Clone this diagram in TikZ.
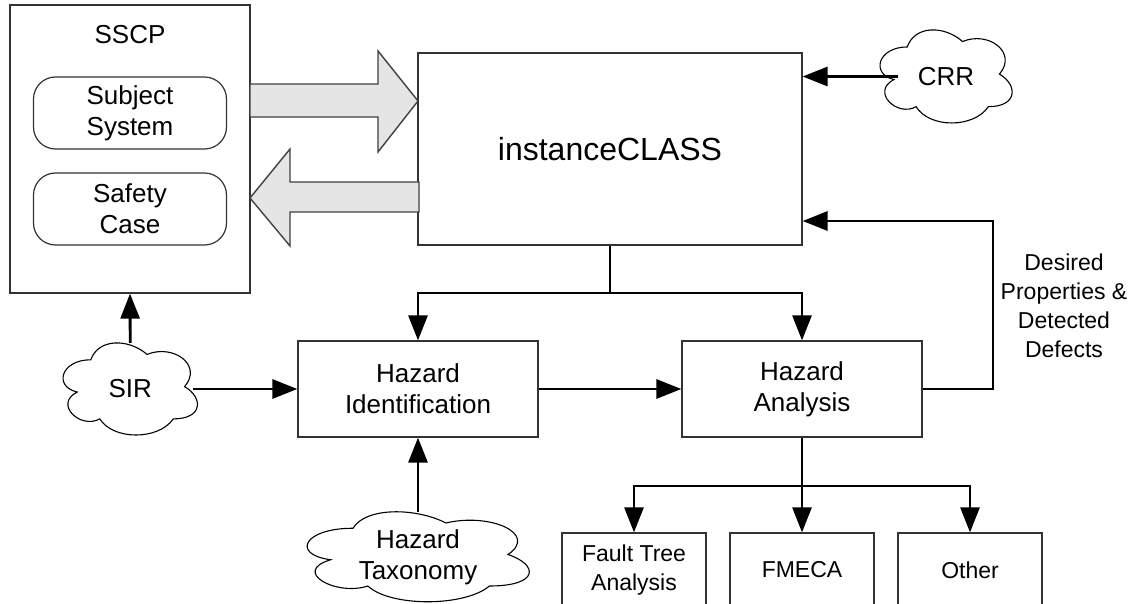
\documentclass[tikz,border=0pt]{standalone}
\usepackage{fontspec}
\setmainfont{Liberation Sans}
\usetikzlibrary{arrows.meta,calc}

\tikzset{
  box/.style={draw=black!80, line width=1.2pt, rectangle, align=center, inner sep=0pt,
              font=\fontsize{26}{31}\selectfont},
  rbox/.style={box, rounded corners=22pt},
  smallbox/.style={box, font=\fontsize{23}{29}\selectfont},
  conn/.style={line width=2.8pt, -{Triangle[length=25pt,width=19pt]}},
  plainline/.style={line width=2.8pt},
  cloudtext/.style={align=center, inner sep=0pt, font=\fontsize{26}{31}\selectfont},
  fat/.style={draw=black!75, line width=1.4pt, fill=black!10, line join=miter},
  cloudline/.style={draw=black, line width=1.1pt, fill=white},
  lbl/.style={align=center, inner sep=0pt, font=\fontsize{23}{29}\selectfont},
}

\newcommand{\cloudshape}[4]{%
  \begin{scope}[shift={(#1,#2)}, xscale=#3, yscale=#4]
    \path[cloudline] (0.25,0.25) .. controls (0.05,0.25) and (0,0.5) .. (0.16,0.55)
      .. controls (0,0.66) and (0.18,0.9) .. (0.31,0.8)
      .. controls (0.4,1) and (0.7,1) .. (0.8,0.8)
      .. controls (1,0.8) and (1,0.6) .. (0.875,0.5)
      .. controls (1,0.3) and (0.8,0.1) .. (0.625,0.2)
      .. controls (0.5,0.05) and (0.3,0.05) .. (0.25,0.25) -- cycle;
  \end{scope}}

\begin{document}
\begin{tikzpicture}[x=1pt, y=-1pt]
  \useasboundingbox (0,0) rectangle (1135,604);
  \fill[white] (0,0) rectangle (1135,604);
  \clip (0,0) rectangle (1135,604);

  % SSCP container
  \node[box, minimum width=240pt, minimum height=288pt] (sscp) at (130,149) {};
  \node[cloudtext] (sscplabel) at (130,35) {SSCP};
  \node[rbox, minimum width=193pt, minimum height=72pt] (subj) at (130,113) {Subject\\System};
  \node[rbox, minimum width=193pt, minimum height=72pt] (safety) at (130,209) {Safety\\Case};

  % instanceCLASS
  \node[box, minimum width=384pt, minimum height=192pt, font=\fontsize{32}{38}\selectfont] (inst) at (610,149) {instanceCLASS};

  % fat arrows
  \draw[fat] (250,84) -- (378,84) -- (378,51) -- (418,101) -- (378,152) -- (378,117) -- (250,117) -- cycle;
  \draw[fat] (419,182) -- (290,182) -- (290,149) -- (250,198) -- (290,246) -- (290,212) -- (419,212) -- cycle;

  % hazard boxes
  \node[box, minimum width=240pt, minimum height=96pt] (hid) at (418,389) {Hazard\\Identification};
  \node[box, minimum width=240pt, minimum height=96pt] (han) at (802,389) {Hazard\\Analysis};

  % bottom boxes
  \node[smallbox, minimum width=144pt, minimum height=74pt] (fta) at (634,570) {Fault Tree\\Analysis};
  \node[smallbox, minimum width=144pt, minimum height=74pt] (fmeca) at (802,570) {FMECA};
  \node[smallbox, minimum width=144pt, minimum height=74pt] (other) at (970,570) {Other};

  % clouds
  \cloudshape{870.4}{19.8}{147.5}{108.6}
  \node[cloudtext, minimum width=132pt, minimum height=93pt] (crr) at (946,76.5) {CRR};
  \cloudshape{53.3}{332.9}{150}{107.5}
  \node[cloudtext, minimum width=134pt, minimum height=92pt] (sir) at (130.2,389) {SIR};
  \cloudshape{291}{502}{248}{105}
  \node[cloudtext, minimum width=222pt, minimum height=90pt] (tax) at (418,556.8) {Hazard\\Taxonomy};

  % label
  \node[lbl] (desired) at (1064,306) {Desired\\Properties \&\\Detected\\Defects};

  % connectors
  \coordinate (j1) at (610,293);
  \draw[plainline] (inst.south) -- (j1);
  \draw[conn] (j1) -| (hid.north);
  \draw[conn] (j1) -| (han.north);

  \draw[conn] ([xshift=18pt]crr.west) -- (inst.east |- crr.west);

  \coordinate (fb) at (993,221);
  \draw[conn] (han.east) -| (fb) -- (inst.east |- fb);

  \draw[conn] (sir.north) -- (sscp.south);
  \draw[conn] ([xshift=-4pt]sir.east) -- (hid.west);
  \draw[conn] (tax.north) -- (hid.south);
  \draw[conn] (hid.east) -- (han.west);

  \coordinate (j2) at (802,486);
  \draw[plainline] (han.south) -- (j2);
  \draw[conn] (j2) -| (fta.north);
  \draw[conn] (j2) -- (fmeca.north);
  \draw[conn] (j2) -| (other.north);
\end{tikzpicture}
\end{document}
